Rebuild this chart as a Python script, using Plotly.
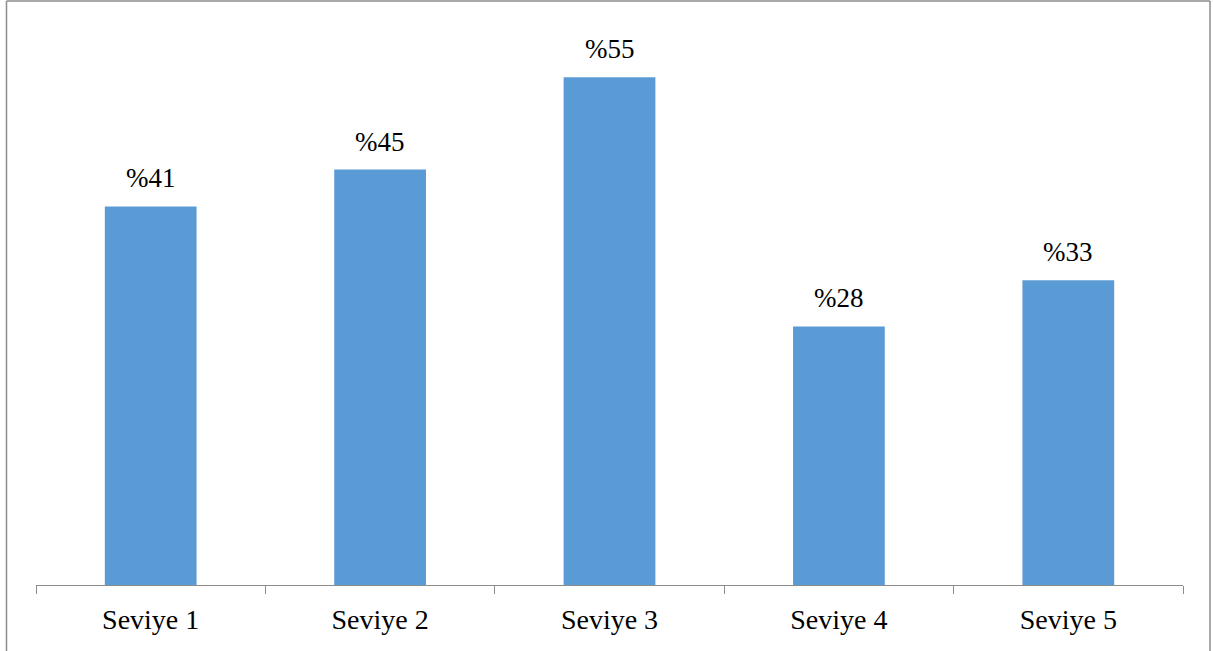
import plotly.graph_objects as go

categories = ["Seviye 1", "Seviye 2", "Seviye 3", "Seviye 4", "Seviye 5"]
values = [41, 45, 55, 28, 33]
labels = ["%41", "%45", "%55", "%28", "%33"]

W, H = 1213, 651
ml, mr, mt, mb = 36, 30, 31, 66
pw, ph = W - ml - mr, H - mt - mb
FONT = "Times New Roman"

fig = go.Figure()
fig.add_trace(go.Bar(x=categories, y=values, marker=dict(color="#5B9BD5", line=dict(width=0)),
                     hoverinfo="skip"))

for c, v, t in zip(categories, values, labels):
    fig.add_annotation(x=c, y=v, text=t, showarrow=False, yanchor="bottom", yshift=11,
                       font=dict(family=FONT, size=27, color="#000"))

def px_x(p):
    return (p - ml) / pw

def px_y(p):
    return (H - mb - p) / ph

border = "#8c8c8c"
fig.add_shape(type="line", xref="paper", yref="paper", x0=px_x(6.5), x1=px_x(6.5), y0=px_y(1), y1=px_y(700),
              line=dict(color=border, width=1.5))
fig.add_shape(type="line", xref="paper", yref="paper", x0=px_x(6.5), x1=px_x(1210), y0=px_y(1), y1=px_y(1),
              line=dict(color=border, width=1.5))
fig.add_shape(type="line", xref="paper", yref="paper", x0=px_x(1210), x1=px_x(1210), y0=px_y(1), y1=px_y(700),
              line=dict(color=border, width=1.5))

fig.update_layout(
    width=W, height=H,
    margin=dict(l=ml, r=mr, t=mt, b=mb, pad=0),
    paper_bgcolor="white", plot_bgcolor="white",
    bargap=0.6,
    showlegend=False,
    font=dict(family=FONT, size=28, color="#000"),
    xaxis=dict(showline=True, linecolor="#8c8c8c", linewidth=1, ticks="outside", tickson="boundaries",
               ticklen=8, tickcolor="#8c8c8c", tickwidth=1, showgrid=False,
               ticklabelstandoff=9,
               tickfont=dict(family=FONT, size=28, color="#000")),
    yaxis=dict(range=[0, 60], visible=False, showgrid=False, zeroline=False),
)

fig.write_html("out.html")
